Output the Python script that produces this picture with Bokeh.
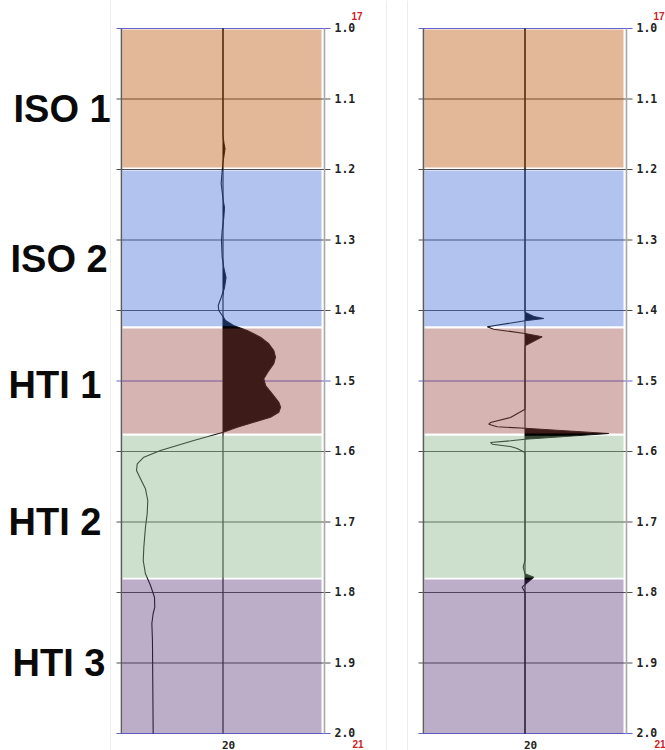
import numpy as np
from bokeh.plotting import figure
from bokeh.models import Range1d, ColumnDataSource, Span
from bokeh.core.properties import value
from bokeh.embed import file_html
from bokeh.resources import INLINE

# ---------------- data ----------------
layer_names = ["ISO 1", "ISO 2", "HTI 1", "HTI 2", "HTI 3"]
layer_tops = [1.0015, 1.2015, 1.4255, 1.5775, 1.7815]
layer_bottoms = [1.197, 1.4225, 1.5745, 1.779, 2.0]
layer_colors = ["#b94e00", "#4169d9", "#96433e", "#82af82", "#573478"]
label_times = [1.1135, 1.327, 1.505, 1.700, 1.900]

time_ticks = [1.0, 1.1, 1.2, 1.3, 1.4, 1.5, 1.6, 1.7, 1.8, 1.9, 2.0]
time_tick_labels = ["1.0", "1.1", "1.2", "1.3", "1.4", "1.5", "1.6", "1.7", "1.8", "1.9", "2.0"]
trace_ticks = [20]
trace_tick_labels = ["20"]
trace_min, trace_max = 19.0, 21.0
corner_top_label = "17"
corner_bottom_label = "21"

left_t = [1.0, 1.1518, 1.1631, 1.1702, 1.1801, 1.1901, 1.2014, 1.2199, 1.2440, 1.2539,
          1.2681, 1.2865, 1.3007, 1.3248, 1.3390, 1.3532, 1.3674, 1.3816, 1.3929, 1.4000,
          1.4071, 1.4142, 1.4213, 1.4284, 1.4379, 1.4472, 1.4567, 1.4662, 1.4756, 1.4875,
          1.4969, 1.5064, 1.5182, 1.5301, 1.5372, 1.5443, 1.5514, 1.5585, 1.5655, 1.5726,
          1.5844, 1.5986, 1.6081, 1.6175, 1.6270, 1.6387, 1.6529, 1.6695, 1.6884, 1.7074,
          1.7357, 1.7546, 1.7735, 1.7901, 1.8067, 1.8208, 1.8298, 1.8440, 1.8681, 2.0]
left_amp = [0.0, 0.0, 0.010, 0.020, 0.010, 0.0, -0.008, -0.018, 0.002, 0.015,
            0.008, -0.008, -0.015, -0.008, 0.008, 0.030, 0.015, -0.018, -0.047, -0.041,
            -0.008, 0.025, 0.103, 0.238, 0.369, 0.451, 0.500, 0.517, 0.500, 0.441,
            0.402, 0.419, 0.485, 0.550, 0.567, 0.550, 0.468, 0.303, 0.140, 0.002,
            -0.288, -0.616, -0.780, -0.845, -0.852, -0.813, -0.764, -0.741, -0.747, -0.764,
            -0.780, -0.786, -0.764, -0.714, -0.675, -0.672, -0.688, -0.701, -0.695, -0.688]

right_t = [1.0, 1.4024, 1.4085, 1.4113, 1.4146, 1.4231, 1.4265, 1.4326, 1.4373, 1.4501,
           1.5400, 1.5518, 1.5589, 1.5613, 1.5650, 1.5670, 1.5745, 1.5826, 1.5848, 1.5872,
           1.5897, 1.5929, 1.5957, 1.6014, 1.7546, 1.7641, 1.7735, 1.7783, 1.7887, 1.7925,
           1.7996, 2.0]
right_amp = [0.0, 0.0, 0.087, 0.185, 0.0, -0.372, -0.310, 0.0, 0.169, 0.0,
             0.0, -0.143, -0.340, -0.357, -0.274, 0.0, 0.826, 0.0, -0.143, -0.340,
             -0.323, -0.143, -0.077, 0.0, 0.0, -0.018, 0.0, 0.087, 0.0, -0.028,
             0.0, 0.0]

# ---------------- layout ----------------
W, H = 665, 750
PXX = 101.5          # pixels per trace unit
PXY = 705.0          # pixels per second
Y0 = 28              # canvas y of first time tick
panel_left_px = {"default": 121, "right": 423}
label_dx = [-108, -111, -113, -113, -109]

y_start = time_ticks[0] + (H - Y0) / PXY
y_end = time_ticks[0] - Y0 / PXY

def xr(name):
    s = trace_min - panel_left_px[name] / PXX
    return Range1d(s, s + W / PXX)

p = figure(width=W, height=H, x_range=xr("default"), y_range=Range1d(y_start, y_end),
           x_axis_location=None, y_axis_location=None, toolbar_location=None, tools="",
           output_backend="svg", min_border=0)
p.extra_x_ranges = {"right": xr("right")}
p.outline_line_color = None
p.background_fill_color = "white"
p.border_fill_color = "white"
p.grid.visible = False

# faint screenshot separators
for loc, rn in [(trace_min - 11 / PXX, "default"), (trace_max + 62 / PXX, "default"),
                (trace_min - 16 / PXX, "right")]:
    p.add_layout(Span(location=loc, dimension="height", line_color="#ededed",
                      line_width=1, x_range_name=rn, level="underlay"))

center = trace_ticks[0]
mono = value("DejaVu Sans Mono")
sans = value("Liberation Sans")

for rn, tt, aa in [("default", left_t, left_amp), ("right", right_t, right_amp)]:
    # horizontal time lines
    n = len(time_ticks)
    gcol = ["#6262d6" if i % 5 == 0 else "#4e4e4e" for i in range(n)]
    gsrc = ColumnDataSource(dict(x0=[trace_min - 5 / PXX] * n, x1=[trace_max + 6 / PXX] * n,
                                 y=time_ticks, c=gcol))
    p.segment(x0="x0", x1="x1", y0="y", y1="y", line_color="c", line_width=1.2,
              source=gsrc, x_range_name=rn)
    # panel side edges
    p.segment(x0=[trace_min, trace_max], x1=[trace_min, trace_max],
              y0=[time_ticks[0]] * 2, y1=[time_ticks[-1]] * 2,
              line_color=["#5c5c5c", "#a8a8a8"], line_width=1.6, x_range_name=rn)
    # center line
    p.segment(x0=[center], x1=[center], y0=[time_ticks[0]], y1=[time_ticks[-1]],
              line_color="#333333", line_width=1.3, x_range_name=rn)
    # trace
    x = center + np.array(aa)
    p.harea(y=tt, x1=[center] * len(tt), x2=np.maximum(x, center), fill_color="black",
            x_range_name=rn)
    p.line(x=x, y=tt, line_color="#111111", line_width=1.1, x_range_name=rn)
    # colored layers (translucent overlay)
    p.quad(left=[trace_min + 1 / PXX] * 5, right=[trace_max - 3 / PXX] * 5,
           top=layer_tops, bottom=layer_bottoms, fill_color=layer_colors, fill_alpha=0.4,
           line_color=None, x_range_name=rn)
    # time tick labels
    p.text(x=[trace_max] * n, y=time_ticks, text=time_tick_labels, x_offset=10, y_offset=-1,
           text_font=mono, text_font_style="bold", text_font_size="11.5px",
           text_baseline="middle", text_align="left", text_color="#222222", x_range_name=rn)
    # trace tick label
    p.text(x=trace_ticks, y=[time_ticks[-1]], text=trace_tick_labels, x_offset=-1, y_offset=11,
           text_font=mono, text_font_style="bold", text_font_size="11px",
           text_baseline="middle", text_align="left", text_color="#222222", x_range_name=rn)
    # red corner labels
    p.text(x=[trace_max], y=[time_ticks[0]], text=[corner_top_label], x_offset=27, y_offset=-13,
           text_font=sans, text_font_style="bold", text_font_size="10px",
           text_baseline="middle", text_align="left", text_color="#cc2222", x_range_name=rn)
    p.text(x=[trace_max], y=[time_ticks[-1]], text=[corner_bottom_label], x_offset=28, y_offset=10,
           text_font=sans, text_font_style="bold", text_font_size="10px",
           text_baseline="middle", text_align="left", text_color="#cc2222", x_range_name=rn)

# layer names
lsrc = ColumnDataSource(dict(x=[trace_min] * 5, y=label_times, t=layer_names, dx=label_dx))
p.text(x="x", y="y", text="t", x_offset="dx", source=lsrc,
       text_font=sans, text_font_style="bold", text_font_size="38px",
       text_baseline="middle", text_align="left", text_color="#0a0a0a")

open("out.html", "w").write(file_html(p, INLINE))
